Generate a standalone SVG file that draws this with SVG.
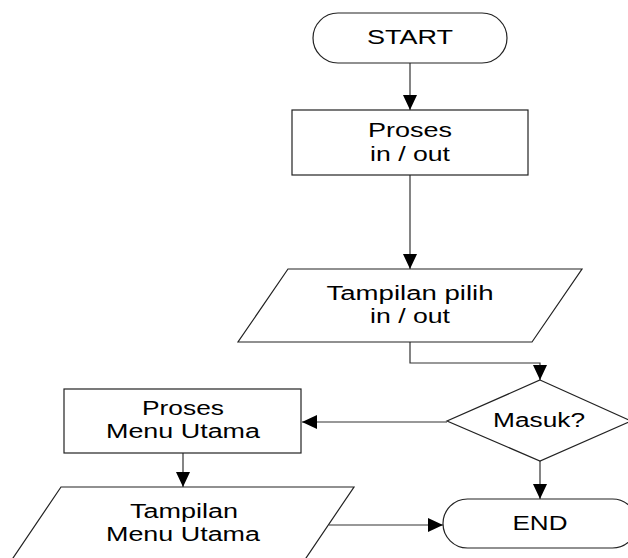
<svg xmlns="http://www.w3.org/2000/svg" width="628" height="558" viewBox="0 0 628 558">
<style>
.shape{fill:#fff;stroke:#222;stroke-width:1.2}
.conn{fill:none;stroke:#333;stroke-width:1.2}
text{font-family:"Liberation Sans",Arial,sans-serif;font-size:20px;fill:#000;text-anchor:middle}
</style>
<defs>
<marker id="arr" markerUnits="userSpaceOnUse" markerWidth="16" markerHeight="14" refX="15" refY="7" orient="auto">
<path d="M0,0 L15,7 L0,14 Z" fill="#000"/>
</marker>
</defs>
<rect width="628" height="558" fill="#fff"/>
<g id="connectors">
<line class="conn" x1="410" y1="63" x2="410" y2="110" marker-end="url(#arr)"/>
<line class="conn" x1="410" y1="175" x2="410" y2="269" marker-end="url(#arr)"/>
<polyline class="conn" points="410,342 410,363 540,363 540,380" marker-end="url(#arr)"/>
<line class="conn" x1="447" y1="422" x2="302" y2="422" marker-end="url(#arr)"/>
<line class="conn" x1="540" y1="461" x2="540" y2="499" marker-end="url(#arr)"/>
<line class="conn" x1="183" y1="453" x2="183" y2="487" marker-end="url(#arr)"/>
<line class="conn" x1="329" y1="525" x2="443" y2="525" marker-end="url(#arr)"/>
</g>
<g id="start">
<rect class="shape" x="313" y="13" width="194" height="50" rx="25" ry="25"/>
<text x="410" y="44" textLength="86" lengthAdjust="spacingAndGlyphs">START</text>
</g>
<g id="proses-inout">
<rect class="shape" x="292" y="110" width="236" height="65"/>
<text x="410" y="137" textLength="84" lengthAdjust="spacingAndGlyphs">Proses</text>
<text x="410" y="161" textLength="80" lengthAdjust="spacingAndGlyphs">in / out</text>
</g>
<g id="tampilan-pilih">
<polygon class="shape" points="288,269 582,269 532,342 238,342"/>
<text x="410" y="300" textLength="167" lengthAdjust="spacingAndGlyphs">Tampilan pilih</text>
<text x="410" y="323" textLength="80" lengthAdjust="spacingAndGlyphs">in / out</text>
</g>
<g id="masuk">
<polygon class="shape" points="540,380 631,421 540,461 447,421"/>
<text x="539" y="427" textLength="92" lengthAdjust="spacingAndGlyphs">Masuk?</text>
</g>
<g id="proses-menu">
<rect class="shape" x="64" y="389" width="237" height="64"/>
<text x="183" y="415" textLength="82" lengthAdjust="spacingAndGlyphs">Proses</text>
<text x="183" y="438" textLength="154" lengthAdjust="spacingAndGlyphs">Menu Utama</text>
</g>
<g id="tampilan-menu">
<polygon class="shape" points="61,487 354,487 304,561 11,561"/>
<text x="184" y="518" textLength="108" lengthAdjust="spacingAndGlyphs">Tampilan</text>
<text x="183" y="541" textLength="154" lengthAdjust="spacingAndGlyphs">Menu Utama</text>
</g>
<g id="end">
<rect class="shape" x="443" y="499" width="194" height="49" rx="24.5" ry="24.5"/>
<text x="540" y="530" textLength="55" lengthAdjust="spacingAndGlyphs">END</text>
</g>
</svg>
